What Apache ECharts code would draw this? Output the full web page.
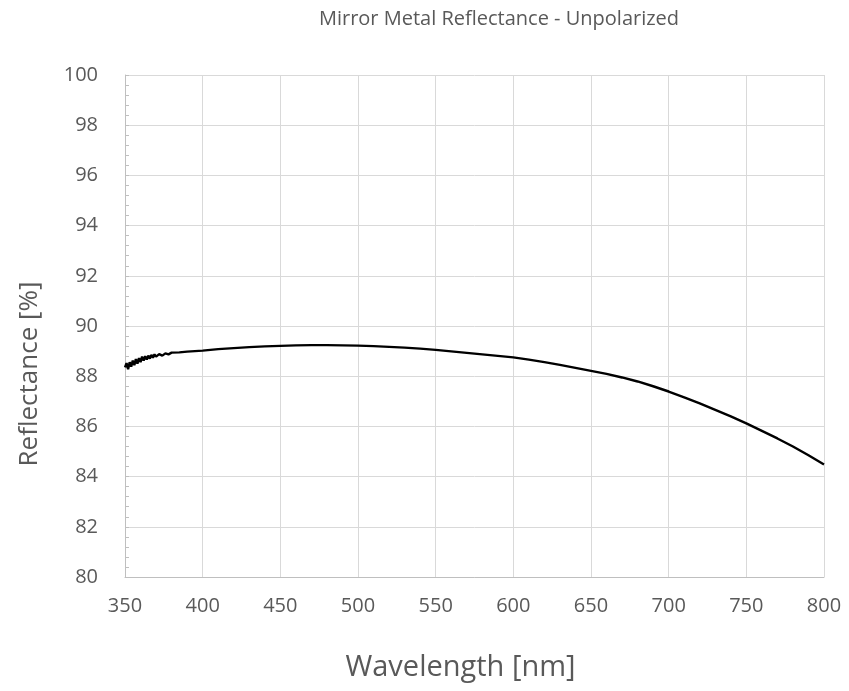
<!DOCTYPE html>
<html>
<head>
<meta charset="utf-8">
<script src="https://cdn.jsdelivr.net/npm/echarts@6/dist/echarts.min.js"></script>
<style>
html, body { margin: 0; padding: 0; background: #fff; }
#chart { width: 849px; height: 691px; }
</style>
</head>
<body>
<div id="chart"></div>
<script>
// wavelength [nm] and reflectance [%]
var wavelength = [350, 351, 352, 353, 354, 355, 356, 357, 358, 359, 360, 361, 362, 363, 364, 365, 366, 367, 368, 369, 370, 372, 374, 376, 378, 380, 385, 390, 395, 400, 410, 420, 430, 440, 450, 460, 470, 480, 490, 500, 510, 520, 530, 540, 550, 560, 570, 580, 590, 600, 610, 620, 630, 640, 650, 660, 670, 680, 690, 700, 710, 720, 730, 740, 750, 760, 770, 780, 790, 800];
var reflectance = [88.35, 88.52, 88.28, 88.56, 88.38, 88.62, 88.44, 88.68, 88.5, 88.72, 88.56, 88.78, 88.62, 88.8, 88.66, 88.82, 88.7, 88.85, 88.74, 88.87, 88.78, 88.88, 88.82, 88.91, 88.87, 88.94, 88.95, 88.98, 89.0, 89.02, 89.08, 89.12, 89.16, 89.19, 89.21, 89.23, 89.24, 89.24, 89.23, 89.22, 89.2, 89.17, 89.14, 89.1, 89.05, 88.99, 88.93, 88.87, 88.81, 88.75, 88.66, 88.56, 88.45, 88.33, 88.21, 88.09, 87.95, 87.79, 87.6, 87.39, 87.16, 86.92, 86.66, 86.4, 86.12, 85.82, 85.52, 85.2, 84.85, 84.48];

var chartTitle = 'Mirror Metal Reflectance - Unpolarized';
var xName = 'Wavelength [nm]';
var yName = 'Reflectance [%]';

var points = [];
for (var i = 0; i < wavelength.length; i++) {
	points.push([wavelength[i], reflectance[i]]);
}

var font = '"Open Sans", sans-serif';
var myChart = echarts.init(document.getElementById('chart'));
myChart.setOption({
	animation: false,
	title: {
		text: chartTitle,
		left: 494, top: 4, textAlign: 'center',
		textStyle: { fontFamily: font, fontSize: 20, fontWeight: 'normal', color: '#595959' }
	},
	grid: { left: 125, right: 25, top: 75, bottom: 114 },
	xAxis: {
		type: 'value', min: 350, max: 800, interval: 50,
		name: xName, nameLocation: 'middle', nameGap: 76,
		nameTextStyle: { fontFamily: font, fontSize: 29, color: '#595959', padding: [0, 28, 0, 0] },
		axisLine: { show: true, lineStyle: { color: '#bfbfbf', width: 1 } },
		axisTick: { show: false },
		axisLabel: { fontFamily: font, fontSize: 20, color: '#595959', margin: 19 },
		splitLine: { show: true, lineStyle: { color: '#d9d9d9', width: 1 } }
	},
	yAxis: {
		type: 'value', min: 80, max: 100, interval: 2,
		name: yName, nameLocation: 'middle', nameGap: 82, nameRotate: 90,
		nameTextStyle: { fontFamily: font, fontSize: 26, color: '#595959', padding: [0, 96, 0, 0] },
		axisLine: { show: true, lineStyle: { color: '#bfbfbf', width: 1 } },
		axisTick: { show: true, inside: true, length: 4, lineStyle: { color: '#bfbfbf' } },
		minorTick: { show: true, splitNumber: 5, length: 4, lineStyle: { color: '#bfbfbf' } },
		axisLabel: { fontFamily: font, fontSize: 20, color: '#595959', margin: 27 },
		splitLine: { show: true, lineStyle: { color: '#d9d9d9', width: 1 } }
	},
	series: [{
		type: 'line',
		data: points,
		showSymbol: false,
		lineStyle: { color: '#000', width: 2.4 }
	}]
});
</script>
</body>
</html>
